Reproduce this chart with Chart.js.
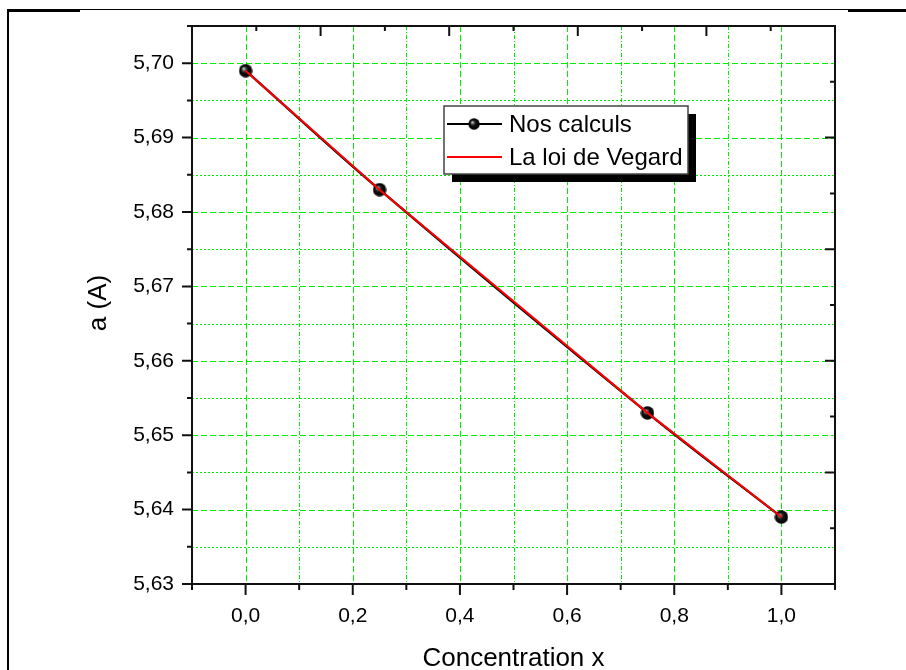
<!DOCTYPE html>
<html>
<head>
<meta charset="utf-8">
<script src="https://cdn.jsdelivr.net/npm/chart.js@4/dist/chart.umd.min.js"></script>
<style>
  html, body { margin: 0; padding: 0; background: #fff; }
  #wrap { position: relative; width: 906px; height: 670px; overflow: hidden; }
  #plot { position: absolute; left: 0; top: 0; }
  .rule { position: absolute; background: #000; }
</style>
</head>
<body>
<div id="wrap">
  <!-- page frame (table cell borders round the figure) -->
  <div class="rule" style="left:7px;top:9px;width:2px;height:661px"></div>
  <div class="rule" style="left:7px;top:9px;width:841px;height:1px"></div>
  <div class="rule" style="left:7px;top:9px;width:73px;height:3px"></div>
  <div class="rule" style="left:848px;top:9px;width:58px;height:3px"></div>
  <canvas id="plot" width="906" height="670"></canvas>
</div>
<script>
/* ---------------- data ---------------- */
const concentration = [0.0, 0.25, 0.75, 1.0];
const nosCalculs    = [5.699, 5.683, 5.653, 5.639];
const vegardX       = [0.0, 0.25, 0.75, 1.0];
const vegardA       = [5.699, 5.683, 5.653, 5.639];

// labelled ticks
const xTickValues = [0.0, 0.2, 0.4, 0.6, 0.8, 1.0];
const yTickValues = [5.63, 5.64, 5.65, 5.66, 5.67, 5.68, 5.69, 5.70];
// all tick marks (major + minor)
const xTickMarks = [-0.1, 0.0, 0.1, 0.2, 0.3, 0.4, 0.5, 0.6, 0.7, 0.8, 0.9, 1.0, 1.1];
const yTickMarks = [5.63, 5.635, 5.64, 5.645, 5.65, 5.655, 5.66, 5.665, 5.67,
                    5.675, 5.68, 5.685, 5.69, 5.695, 5.70, 5.705];
// mirror axes (top / right) carry an unrelated 0..10 scale
const mirrorTickMarks = [1, 2, 3, 4, 5, 6, 7, 8, 9];

const FONT = '"Liberation Sans", Arial, sans-serif';
const GREEN = "#00ee00";

/* sphere marker, like Origin's shaded ball */
function makeSphere(d) {
  const c = document.createElement("canvas");
  c.width = d; c.height = d;
  const g = c.getContext("2d");
  const r = d / 2;
  const grad = g.createRadialGradient(r * 0.7, r * 0.7, 0.3, r, r, r);
  grad.addColorStop(0, "#e0e0e0");
  grad.addColorStop(0.2, "#666");
  grad.addColorStop(0.45, "#111");
  grad.addColorStop(1, "#000");
  g.fillStyle = grad;
  g.beginPath(); g.arc(r, r, r - 0.3, 0, Math.PI * 2); g.fill();
  return c;
}
const sphere = makeSphere(14);

const isMajor = (v, step) => Math.abs(Math.round(v / step) * step - v) < 1e-6;
const fmt = (v, d) => v.toFixed(d).replace(".", ",");

/* ---------------- decorations drawn through the scales ---------------- */
const originPlugin = {
  id: "originLook",
  beforeDatasetsDraw(chart) {
    const { ctx, chartArea: a, scales: { x, y } } = chart;
    ctx.save();
    ctx.beginPath(); ctx.rect(a.left, a.top, a.right - a.left, a.bottom - a.top); ctx.clip();
    ctx.lineWidth = 1;
    ctx.strokeStyle = GREEN;
    xTickMarks.forEach(v => {
      if (v < -0.01 || v > 1.01) return;
      const px = Math.round(x.getPixelForValue(v)) + 0.5;
      ctx.setLineDash(isMajor(v, 0.2) ? [6, 3] : [4, 2, 1, 2]);
      ctx.beginPath(); ctx.moveTo(px, a.top); ctx.lineTo(px, a.bottom); ctx.stroke();
    });
    yTickMarks.forEach(v => {
      if (v < 5.631 || v > 5.7025) return;
      const py = Math.round(y.getPixelForValue(v)) + 0.5;
      ctx.setLineDash(isMajor(v, 0.01) ? [6, 3] : [2, 2]);
      ctx.beginPath(); ctx.moveTo(a.left, py); ctx.lineTo(a.right, py); ctx.stroke();
    });
    ctx.restore();
  },
  afterDatasetsDraw(chart) {
    const { ctx, chartArea: a, scales: { x, y, x2, y2 } } = chart;
    ctx.save();
    ctx.strokeStyle = "#111";
    ctx.lineWidth = 2;
    ctx.setLineDash([]);
    ctx.strokeRect(a.left, a.top, a.right - a.left, a.bottom - a.top);

    ctx.beginPath();
    // bottom: outward
    xTickMarks.forEach(v => {
      const px = x.getPixelForValue(v);
      const len = isMajor(v, 0.2) ? 11 : 6;
      ctx.moveTo(px, a.bottom); ctx.lineTo(px, a.bottom + len);
    });
    // left: outward
    yTickMarks.forEach(v => {
      const py = y.getPixelForValue(v);
      const len = isMajor(v, 0.01) ? 10 : 5;
      ctx.moveTo(a.left, py); ctx.lineTo(a.left - len, py);
    });
    // top: inward
    mirrorTickMarks.forEach(v => {
      const px = x2.getPixelForValue(v);
      const len = v % 2 === 0 ? 10 : 5;
      ctx.moveTo(px, a.top); ctx.lineTo(px, a.top + len);
    });
    // right: inward
    mirrorTickMarks.forEach(v => {
      const py = y2.getPixelForValue(v);
      const len = v % 2 === 0 ? 10 : 5;
      ctx.moveTo(a.right, py); ctx.lineTo(a.right - len, py);
    });
    ctx.stroke();

    // axis titles
    ctx.fillStyle = "#000";
    ctx.font = "26px " + FONT;
    ctx.textAlign = "center";
    ctx.textBaseline = "alphabetic";
    ctx.fillText("Concentration x", (a.left + a.right) / 2, 666);
    ctx.translate(106, 303);
    ctx.rotate(-Math.PI / 2);
    ctx.fillText("a (A)", 0, 0);
    ctx.restore();
  },
  afterDraw(chart) {
    const { ctx } = chart;
    const bx = 444, by = 106, bw = 244, bh = 68;
    ctx.save();
    ctx.fillStyle = "#000";
    ctx.fillRect(bx + 8, by + 8, bw, bh);
    ctx.fillStyle = "#fff";
    ctx.fillRect(bx, by, bw, bh);
    ctx.strokeStyle = "#444";
    ctx.lineWidth = 1.5;
    ctx.strokeRect(bx, by, bw, bh);

    const rows = [
      { y: 124, color: "#000", marker: true,  text: "Nos calculs" },
      { y: 157, color: "#ff0000", marker: false, text: "La loi de Vegard" },
    ];
    ctx.font = "24px " + FONT;
    ctx.textBaseline = "middle";
    rows.forEach(r => {
      ctx.strokeStyle = r.color;
      ctx.lineWidth = 2;
      ctx.beginPath(); ctx.moveTo(447, r.y); ctx.lineTo(502, r.y); ctx.stroke();
      if (r.marker) ctx.drawImage(sphere, 474 - 6, r.y - 6, 12, 12);
      ctx.fillStyle = "#000";
      ctx.fillText(r.text, 509, r.y + 1);
    });
    ctx.restore();
  },
};

const tickFont = { family: FONT, size: 21 };

new Chart(document.getElementById("plot"), {
  type: "scatter",
  data: {
    datasets: [
      {
        label: "Nos calculs",
        data: concentration.map((c, i) => ({ x: c, y: nosCalculs[i] })),
        showLine: true,
        tension: 0.35,
        borderColor: "#000",
        borderWidth: 2.4,
        pointStyle: sphere,
        pointRadius: 7,
        order: 2,
      },
      {
        label: "La loi de Vegard",
        data: vegardX.map((c, i) => ({ x: c, y: vegardA[i] })),
        showLine: true,
        borderColor: "#ff0000",
        borderWidth: 2,
        pointRadius: 0,
        order: 1,
      },
    ],
  },
  options: {
    responsive: false,
    animation: false,
    events: [],
    layout: { padding: 0 },
    plugins: { legend: { display: false }, tooltip: { enabled: false } },
    scales: {
      x: {
        type: "linear", position: "bottom", min: -0.1, max: 1.1,
        grid: { display: false }, border: { display: false },
        afterBuildTicks: s => { s.ticks = xTickValues.map(v => ({ value: v })); },
        afterFit: s => { s.height = 86; s.paddingLeft = 0; s.paddingRight = 0; },
        ticks: { color: "#000", font: tickFont, padding: 12, maxRotation: 0,
                 callback: v => fmt(v, 1) },
      },
      y: {
        type: "linear", position: "left", min: 5.63, max: 5.705,
        grid: { display: false }, border: { display: false },
        afterBuildTicks: s => { s.ticks = yTickValues.map(v => ({ value: v })); },
        afterFit: s => { s.width = 192; s.paddingTop = 0; s.paddingBottom = 0; },
        ticks: { color: "#000", font: tickFont, padding: 10,
                 callback: v => fmt(v, 2) },
      },
      x2: {
        type: "linear", position: "top", min: 0, max: 10,
        grid: { display: false }, border: { display: false },
        ticks: { display: false },
        afterFit: s => { s.height = 26; },
      },
      y2: {
        type: "linear", position: "right", min: 0, max: 10,
        grid: { display: false }, border: { display: false },
        ticks: { display: false },
        afterFit: s => { s.width = 71; s.paddingTop = 0; s.paddingBottom = 0; },
      },
    },
  },
  plugins: [originPlugin],
});
</script>
</body>
</html>
